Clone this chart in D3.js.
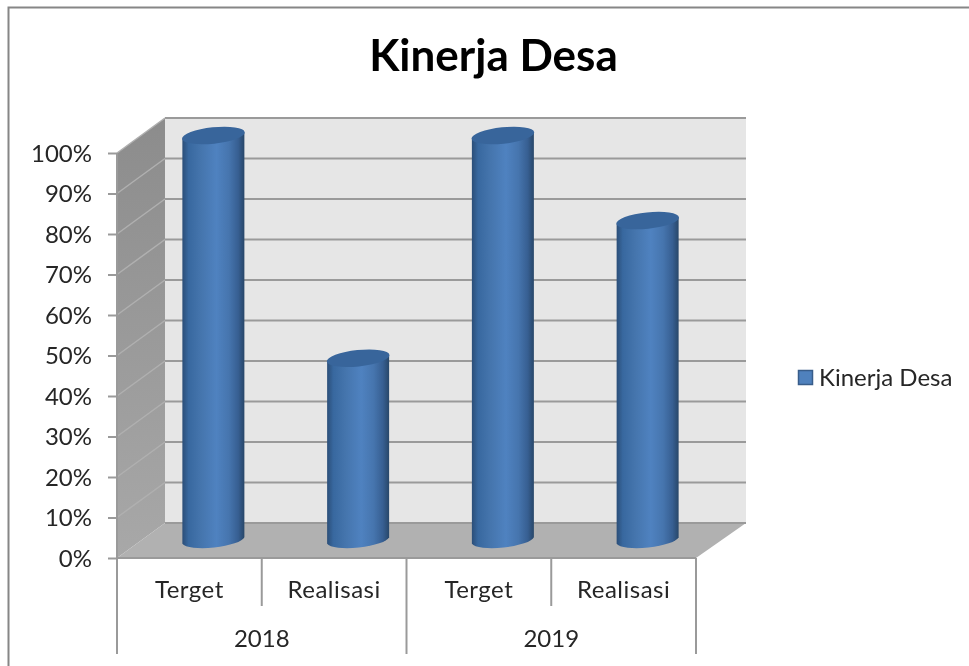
<!DOCTYPE html>
<html lang="en">
<head>
    <meta charset="UTF-8">
    <title>Kinerja Desa</title>
    <script src="https://d3js.org/d3.v7.min.js"></script>
    <style>
        html, body { margin: 0; padding: 0; background: #fff; overflow: hidden; }
        svg { display: block; filter: blur(0.4px); }
        text { font-family: Lato, "Noto Sans", sans-serif; fill: #262626; }
    </style>
</head>
<body>
<script>
    // data
    var years = ['2018', '2019'];
    var categories = ['Terget', 'Realisasi', 'Terget', 'Realisasi'];
    var categoryYears = ['2018', '2018', '2019', '2019'];
    var values = [100, 45, 100, 79];
    var yTicks = [0, 10, 20, 30, 40, 50, 60, 70, 80, 90, 100];
    var seriesName = 'Kinerja Desa';

    const width = 969;
    const height = 666;
    const left = 117, right = 696, bottom = 558, top100 = 153;
    const depthX = 48, depthY = -35, backRight = 746;
    const gridColor = '#9a9a9a';

    var svg = d3.select('body').append('svg')
        .attr('width', width)
        .attr('height', height);

    var defs = svg.append('defs');

    function gradient(id, x2, y2, stops) {
        var g = defs.append('linearGradient').attr('id', id)
            .attr('x1', 0).attr('y1', 0).attr('x2', x2).attr('y2', y2);
        stops.forEach(function (s) {
            g.append('stop').attr('offset', s[0]).attr('stop-color', s[1]);
        });
    }
    gradient('barFill', 1, 0, [[0, '#2b4e78'], [0.1, '#38689f'], [0.3, '#4575ad'], [0.55, '#4f82c0'], [0.75, '#4675ae'], [0.9, '#375f92'], [1, '#284769']]);
    gradient('sideFill', 0, 1, [[0, '#8c8c8c'], [1, '#a8a8a8']]);

    // scales
    var y = d3.scaleLinear().domain([0, 100]).range([bottom, top100]);
    var xBand = d3.scaleBand().domain(d3.range(categories.length)).range([left, right]);
    var xYear = d3.scaleBand().domain(years).range([left, right]);

    // frame of the pasted chart
    svg.append('path')
        .attr('d', 'M8.5,666V7.5H969')
        .attr('fill', 'none')
        .attr('stroke', '#868686')
        .attr('stroke-width', 2);

    // title
    svg.append('text')
        .attr('x', 493.5)
        .attr('y', 71)
        .attr('text-anchor', 'middle')
        .style('font-size', '44px')
        .style('font-weight', 700)
        .style('fill', '#000')
        .text(seriesName);

    // walls and floor
    var backWall = svg.append('g');
    backWall.append('rect')
        .attr('x', left + depthX)
        .attr('y', y(100) + depthY)
        .attr('width', backRight - left - depthX)
        .attr('height', y(0) - y(100))
        .attr('fill', '#e6e6e6');

    backWall.append('path')
        .attr('d', d3.line()([
            [left, y(100)], [left + depthX, y(100) + depthY],
            [left + depthX, y(0) + depthY], [left, y(0)]
        ]) + 'Z')
        .attr('fill', 'url(#sideFill)');

    backWall.append('path')
        .attr('d', d3.line()([
            [left, y(0)], [left + depthX, y(0) + depthY],
            [backRight, y(0) + depthY], [right, y(0)]
        ]) + 'Z')
        .attr('fill', '#b1b1b1');

    // gridlines along back wall
    svg.append('g').selectAll('line')
        .data(yTicks)
        .enter()
        .append('line')
        .attr('x1', left + depthX)
        .attr('x2', backRight)
        .attr('y1', function (d) { return y(d) + depthY; })
        .attr('y2', function (d) { return y(d) + depthY; })
        .attr('stroke', gridColor)
        .attr('stroke-width', 2);

    // and the diagonals on the side wall
    svg.append('g').selectAll('line')
        .data(yTicks.filter(function (d) { return d > 0; }))
        .enter()
        .append('line')
        .attr('x1', left)
        .attr('x2', left + depthX)
        .attr('y1', function (d) { return y(d); })
        .attr('y2', function (d) { return y(d) + depthY; })
        .attr('stroke', '#b0b0b0')
        .attr('stroke-width', 1.5);

    // cylinders
    var bars = svg.append('g').selectAll('g')
        .data(values)
        .enter()
        .append('g');

    const barHalf = 31, capRy = 8.2, tilt = -6, tiltDy = 3.3;

    function cx(i) { return xBand(i) + xBand.bandwidth() / 2 + depthX / 2; }
    function cy(v) { return y(v) + depthY / 2; }

    bars.append('path')
        .attr('d', function (d, i) {
            var x = cx(i), t = cy(d), b = cy(0);
            return 'M' + (x - barHalf) + ',' + (t + tiltDy) +
                'L' + (x - barHalf) + ',' + (b + tiltDy) +
                'A' + (barHalf + 0.5) + ',' + capRy + ' ' + tilt + ' 0 0 ' + (x + barHalf) + ',' + (b - tiltDy) +
                'L' + (x + barHalf) + ',' + (t - tiltDy) + 'Z';
        })
        .attr('fill', 'url(#barFill)');

    bars.append('ellipse')
        .attr('cx', function (d, i) { return cx(i); })
        .attr('cy', function (d) { return cy(d); })
        .attr('rx', barHalf + 0.5)
        .attr('ry', capRy)
        .attr('transform', function (d, i) {
            return 'rotate(' + tilt + ' ' + cx(i) + ' ' + cy(d) + ')';
        })
        .attr('fill', '#38659b');

    // y axis
    var yAxis = d3.axisLeft(y)
        .tickValues(yTicks)
        .tickFormat(function (d) { return d + '%'; })
        .tickSize(9)
        .tickPadding(16);

    var yG = svg.append('g')
        .attr('transform', 'translate(' + left + ',0)')
        .call(yAxis);
    yG.selectAll('text').style('font-size', '24px').attr('dy', '0.34em');
    yG.selectAll('line').attr('stroke', gridColor).attr('stroke-width', 2);
    yG.select('.domain').attr('stroke', gridColor).attr('stroke-width', 2).attr('d', 'M0,' + y(100) + 'V' + y(0));

    // x axis, two levels
    var xAxis = svg.append('g');
    xAxis.append('line')
        .attr('x1', left).attr('x2', right)
        .attr('y1', y(0)).attr('y2', y(0))
        .attr('stroke', gridColor)
        .attr('stroke-width', 2);

    xAxis.selectAll('.inner')
        .data(d3.range(categories.length).filter(function (i) { return i % 2 === 1; }))
        .enter()
        .append('line')
        .attr('class', 'inner')
        .attr('x1', function (i) { return xBand(i); })
        .attr('x2', function (i) { return xBand(i); })
        .attr('y1', y(0))
        .attr('y2', 606)
        .attr('stroke', gridColor)
        .attr('stroke-width', 2);

    xAxis.selectAll('.outer')
        .data(years.map(function (d) { return xYear(d); }).concat([right]))
        .enter()
        .append('line')
        .attr('class', 'outer')
        .attr('x1', function (d) { return d; })
        .attr('x2', function (d) { return d; })
        .attr('y1', y(0))
        .attr('y2', 654)
        .attr('stroke', gridColor)
        .attr('stroke-width', 2);

    xAxis.selectAll('.cat')
        .data(categories)
        .enter()
        .append('text')
        .attr('class', 'cat')
        .attr('x', function (d, i) { return xBand(i) + xBand.bandwidth() / 2; })
        .attr('y', 598)
        .attr('text-anchor', 'middle')
        .style('font-size', '24px')
        .style('letter-spacing', '0.5px')
        .text(function (d) { return d; });

    xAxis.selectAll('.year')
        .data(years)
        .enter()
        .append('text')
        .attr('class', 'year')
        .attr('x', function (d) { return xYear(d) + xYear.bandwidth() / 2; })
        .attr('y', 647)
        .attr('text-anchor', 'middle')
        .style('font-size', '24px')
        .text(function (d) { return d; });

    // legend
    var legend = svg.append('g').attr('transform', 'translate(798,370)');
    legend.append('rect')
        .attr('x', 0.5).attr('y', 0.5)
        .attr('width', 14).attr('height', 14)
        .attr('fill', '#4f81bd')
        .attr('stroke', '#385d8a')
        .attr('stroke-width', 1.5);
    legend.append('text')
        .attr('x', 21)
        .attr('y', 16)
        .style('font-size', '24px')
        .text(seriesName);
</script>
</body>
</html>
